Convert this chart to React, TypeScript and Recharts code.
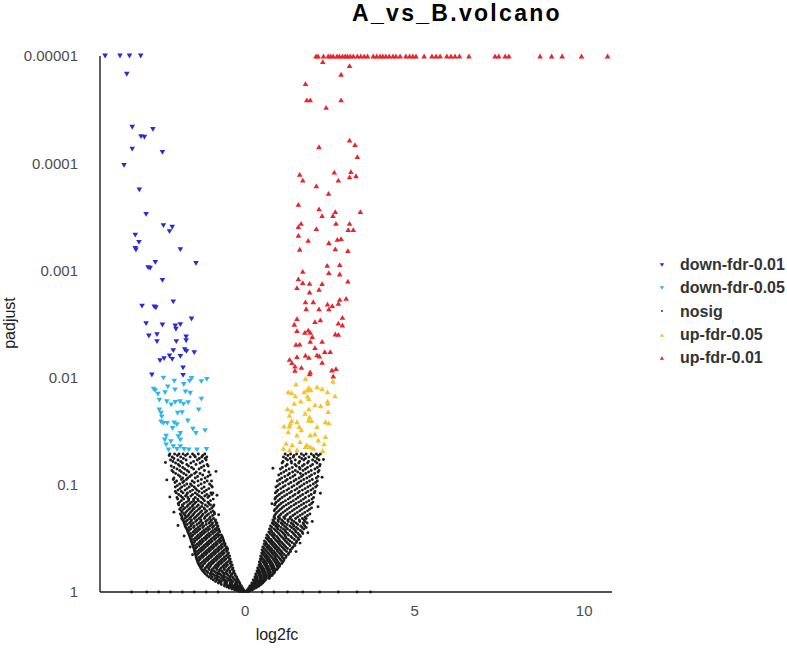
import React from 'react';
import { ScatterChart, Scatter, XAxis, YAxis, Legend } from 'recharts';

// ---------- axis ticks ----------
const xTicks = [0, 5, 10];
const yTicks = [0.00001, 0.0001, 0.001, 0.01, 0.1, 1];
const yTickLabels = ['0.00001', '0.0001', '0.001', '0.01', '0.1', '1'];

// ---------- series values: [log2fc, padjust] ----------
const downFdr001: [number, number][] = [
  [-4.13, 0.00001], [-3.69, 0.00001], [-3.41, 0.00001], [-3.08, 0.00001],
  [-3.49, 0.0000148], [-3.33, 0.0000462], [-2.72, 0.0000483], [-3.07, 0.0000566],
  [-2.97, 0.0000573], [-3.33, 0.0000738], [-2.44, 0.0000791], [-3.57, 0.000105],
  [-3.12, 0.000177], [-2.92, 0.0003], [-2.41, 0.000383], [-2.15, 0.000396],
  [-2.23, 0.000435], [-3.24, 0.000468], [-3.13, 0.000547], [-3.24, 0.000622],
  [-3.22, 0.000645], [-1.91, 0.000641], [-2.86, 0.000943], [-2.8, 0.000955],
  [-2.65, 0.00084], [-1.45, 0.000859], [-2.44, 0.00124], [-2.12, 0.00197],
  [-3.04, 0.00215], [-2.68, 0.00219], [-2.63, 0.00223], [-1.58, 0.00284],
  [-2.92, 0.00314], [-2.44, 0.00323], [-2.06, 0.0033], [-1.91, 0.00321],
  [-2.04, 0.00354], [-2.6, 0.00398], [-2.84, 0.00409], [-1.74, 0.00418],
  [-2.6, 0.00462], [-2.03, 0.00462], [-1.74, 0.00453], [-2.12, 0.00561],
  [-1.78, 0.0055], [-1.73, 0.0057], [-1.5, 0.00586], [-2.23, 0.00629],
  [-1.91, 0.00633], [-2.51, 0.00695], [-2.39, 0.00666], [-2.15, 0.00675],
  [-1.83, 0.00813], [-2.75, 0.00946], [-1.83, 0.00952],
];

const downFdr005: [number, number][] = [
  [-2.41, 0.0101], [-1.58, 0.0102], [-1.64, 0.0108], [-1.29, 0.0109], [-1.13, 0.0104],
  [-2.09, 0.0108], [-1.81, 0.0116], [-2.28, 0.0122], [-2.65, 0.0132], [-2.57, 0.0143],
  [-2.36, 0.0138], [-2.07, 0.013], [-1.76, 0.0136], [-1.62, 0.014], [-1.29, 0.0159],
  [-2.53, 0.0162], [-2.31, 0.0168], [-1.92, 0.0168], [-2.06, 0.017], [-2.18, 0.018],
  [-1.82, 0.0177], [-1.68, 0.0171], [-1.37, 0.02], [-2.53, 0.02], [-2.48, 0.0215],
  [-1.99, 0.0215], [-1.86, 0.0212], [-2.46, 0.0232], [-2.48, 0.0259], [-2.41, 0.0267],
  [-2.3, 0.0267], [-2.09, 0.0264], [-2.01, 0.0275], [-1.69, 0.0254], [-2.14, 0.0297],
  [-1.54, 0.0302], [-1.45, 0.0331], [-1.18, 0.0313], [-1.91, 0.0331], [-2.33, 0.0351],
  [-1.97, 0.0356], [-2.37, 0.0382], [-2.19, 0.0396], [-1.91, 0.0382], [-2.33, 0.0425],
  [-2.12, 0.0441], [-1.91, 0.0441], [-1.8, 0.0467], [-1.66, 0.0473], [-1.42, 0.0473],
  [-1.14, 0.0467], [-2.26, 0.0473], [-2.01, 0.0467], [-2.7, 0.0128],
];

const upFdr005: [number, number][] = [
  [2.59, 0.0108], [1.78, 0.0102], [1.5, 0.0115], [1.88, 0.0124], [2.12, 0.0122],
  [2.27, 0.0127], [1.74, 0.0136], [1.94, 0.013], [1.27, 0.0136], [1.37, 0.0138],
  [2.43, 0.0136], [1.84, 0.0149], [1.88, 0.0157], [2.65, 0.0148], [1.48, 0.0148],
  [1.45, 0.0174], [1.64, 0.0166], [2.43, 0.0166], [2.06, 0.018], [2.23, 0.0183],
  [2.44, 0.0174], [1.25, 0.0196], [1.37, 0.0204], [1.88, 0.0196], [2.45, 0.0208],
  [1.77, 0.0215], [1.31, 0.0225], [1.9, 0.0232], [1.37, 0.0252], [1.53, 0.0258],
  [1.96, 0.0252], [2.37, 0.0258], [2.47, 0.0264], [1.15, 0.0283], [1.31, 0.0283],
  [1.6, 0.0287], [2.12, 0.0287], [1.27, 0.032], [1.66, 0.0308], [1.92, 0.0343],
  [2.06, 0.0336], [2.37, 0.0356], [1.21, 0.041], [1.39, 0.0425], [1.62, 0.0396],
  [1.78, 0.0441], [2.16, 0.0382], [2.33, 0.0416], [1.13, 0.0457], [1.31, 0.0473],
  [1.53, 0.0473], [1.92, 0.0441], [2.01, 0.0457], [2.29, 0.0481], [1.83, 0.013],
  [1.87, 0.0249], [1.33, 0.0267], [1.53, 0.0343], [1.82, 0.0425],
];

const upFdr001: [number, number][] = [
  [2.09, 0.00001], [2.15, 0.00001], [2.31, 0.00001], [2.45, 0.00001], [2.52, 0.00001],
  [2.6, 0.00001], [2.71, 0.00001], [2.78, 0.00001], [2.87, 0.00001], [2.95, 0.00001],
  [3.02, 0.00001], [3.1, 0.00001], [3.19, 0.00001], [3.31, 0.00001], [3.41, 0.00001],
  [3.51, 0.00001], [3.61, 0.00001], [3.78, 0.00001], [3.88, 0.00001], [3.98, 0.00001],
  [4.06, 0.00001], [4.15, 0.00001], [4.25, 0.00001], [4.36, 0.00001], [4.45, 0.00001],
  [4.57, 0.00001], [4.74, 0.00001], [4.85, 0.00001], [4.95, 0.00001], [5.04, 0.00001],
  [5.28, 0.00001], [5.51, 0.00001], [5.63, 0.00001], [5.75, 0.00001], [5.95, 0.00001],
  [6.07, 0.00001], [6.19, 0.00001], [6.32, 0.00001], [6.6, 0.00001], [7.37, 0.00001],
  [7.48, 0.00001], [7.67, 0.00001], [7.78, 0.00001], [8.7, 0.00001], [9.04, 0.00001],
  [9.35, 0.00001], [9.92, 0.00001], [10.69, 0.00001],
  [2.29, 0.0000113], [3.08, 0.0000123], [2.83, 0.0000148], [1.78, 0.0000181],
  [1.82, 0.0000257], [1.92, 0.0000257], [2.83, 0.0000257], [2.39, 0.0000301],
  [3.08, 0.0000608], [3.24, 0.0000672], [2.18, 0.0000702], [3.31, 0.0000869],
  [1.61, 0.000127], [1.7, 0.000144], [2.63, 0.000121], [3.12, 0.00012],
  [3.08, 0.000134], [3.27, 0.000131], [2.75, 0.000144], [2.1, 0.000163],
  [2.46, 0.000191], [1.57, 0.000242], [2.18, 0.000267], [2.27, 0.000309],
  [2.66, 0.000283], [2.59, 0.000309], [3.4, 0.000283], [1.65, 0.000364],
  [1.57, 0.000391], [2.68, 0.000364], [3.08, 0.000364], [2.1, 0.000408],
  [3.04, 0.000417], [3.19, 0.000417], [1.57, 0.000471], [1.86, 0.000524],
  [2.47, 0.000552], [2.72, 0.000513], [2.83, 0.000506], [2.66, 0.000631],
  [1.61, 0.000635], [3.03, 0.000655], [2.42, 0.000896], [2.79, 0.000885],
  [1.7, 0.00102], [2.47, 0.00105], [2.79, 0.00108], [1.57, 0.0012],
  [1.7, 0.0013], [1.9, 0.00132], [2.27, 0.00133], [3.03, 0.00126],
  [1.53, 0.00145], [2.18, 0.0015], [1.9, 0.00159], [1.78, 0.00197],
  [2.01, 0.00196], [2.43, 0.00206], [2.57, 0.00213], [2.79, 0.00186],
  [2.98, 0.00182], [1.8, 0.00228], [2.18, 0.00229], [2.47, 0.00229],
  [2.75, 0.00203], [1.53, 0.00282], [1.45, 0.00318], [1.53, 0.00365],
  [2.06, 0.00301], [2.22, 0.0029], [2.87, 0.00274], [2.75, 0.00311],
  [2.87, 0.00323], [1.76, 0.00378], [1.86, 0.0036], [1.92, 0.00378],
  [1.98, 0.00415], [1.92, 0.00459], [2.27, 0.00459], [2.66, 0.00392],
  [2.75, 0.00395], [1.5, 0.00489], [1.61, 0.00487], [2.06, 0.00526],
  [2.35, 0.00573], [2.51, 0.00573], [1.53, 0.00638], [1.78, 0.00619],
  [1.88, 0.00647], [2.12, 0.00615], [2.19, 0.00629], [1.31, 0.00675],
  [1.38, 0.00726], [1.47, 0.0078], [1.66, 0.00802], [1.47, 0.00855],
  [2.27, 0.0072], [1.92, 0.00887], [1.9, 0.00925], [2.56, 0.00849],
  [2.68, 0.00826], [2.6, 0.00966],
];

// nosig: rows of equal padjust with the log2fc values seen on each side
const nosigRowPadj = [
  0.0516, 0.0551, 0.0587, 0.0626, 0.0668, 0.0712, 0.076, 0.081, 0.0864, 0.0922,
  0.0984, 0.105, 0.112, 0.119, 0.127, 0.136, 0.145, 0.154, 0.164, 0.175,
  0.187, 0.2, 0.213, 0.227, 0.242, 0.258, 0.275, 0.294, 0.313, 0.334,
  0.356, 0.38, 0.406, 0.433, 0.462, 0.492, 0.525, 0.56, 0.597, 0.637,
  0.679, 0.724, 0.773, 0.824, 0.879, 0.918, 0.957, 0.99,
];

const nosigLeftRows: number[][] = [
  [-2.22, -2.08, -1.95, -1.83, -1.7, -1.55, -1.38, -1.19],
  [-2.15, -1.9, -1.62, -1.47, -1.28, -1.13],
  [-2.2, -1.98, -1.74, -1.41, -1.15],
  [-2.05, -1.85, -1.6, -1.33],
  [-2.18, -1.93, -1.67, -1.22, -1.09],
  [-2.01, -1.78, -1.52, -1.36],
  [-2.12, -1.88, -1.66, -1.44, -1.07],
  [-1.97, -1.74, -1.58, -1.25, -1.03],
  [-2.1, -1.84, -1.69, -1.47, -1.18],
  [-2.02, -1.8, -1.56, -1.39, -1.12, -0.99],
  [-1.93, -1.72, -1.61, -1.3, -1.05],
  [-2.06, -1.87, -1.65, -1.5, -1.21, -0.97],
  [-1.98, -1.77, -1.55, -1.42, -1.14],
  [-2.03, -1.83, -1.7, -1.47, -1.27, -1.01, -0.95],
  [-1.9, -1.76, -1.6, -1.35, -1.19, -1.06],
  [-1.99, -1.81, -1.66, -1.52, -1.4, -1.24, -0.94],
  [-1.93, -1.73, -1.58, -1.45, -1.31, -1.1],
  [-1.96, -1.85, -1.68, -1.54, -1.38, -1.17, -1.02, -0.92],
  [-1.9, -1.77, -1.62, -1.49, -1.33, -1.21, -0.98],
  [-1.88, -1.71, -1.57, -1.43, -1.28, -1.13, -0.95],
  [-1.91, -1.8, -1.65, -1.52, -1.37, -1.24, -1.08, -0.9],
  [-1.86, -1.73, -1.6, -1.46, -1.31, -1.18, -1.03],
  [-1.84, -1.7, -1.58, -1.42, -1.3, -1.11, -0.99, -0.87],
  [-1.8, -1.64, -1.53, -1.36, -1.25, -1.07, -0.96, -0.83],
  [-1.77, -1.6, -1.5, -1.33, -1.22, -1.04, -0.93, -0.8],
  [-1.72, -1.6, -1.44, -1.33, -1.16, -1.05, -0.88, -0.78],
  [-1.69, -1.53, -1.43, -1.27, -1.17, -1.0, -0.9, -0.75],
  [-1.65, -1.54, -1.38, -1.28, -1.12, -1.02, -0.86, -0.77, -0.7],
  [-1.62, -1.47, -1.37, -1.21, -1.12, -0.96, -0.86, -0.72, -0.66],
  [-1.59, -1.48, -1.32, -1.23, -1.06, -0.97, -0.81, -0.71, -0.63],
  [-1.56, -1.41, -1.31, -1.16, -1.07, -0.91, -0.82, -0.67, -0.59],
  [-1.53, -1.42, -1.26, -1.17, -1.01, -0.92, -0.77, -0.67, -0.55],
  [-1.5, -1.36, -1.26, -1.11, -1.02, -0.87, -0.77, -0.62, -0.52],
  [-1.48, -1.37, -1.21, -1.12, -0.96, -0.87, -0.72, -0.62, -0.49],
  [-1.45, -1.31, -1.22, -1.06, -0.97, -0.82, -0.72, -0.57, -0.46],
  [-1.43, -1.32, -1.16, -1.07, -0.91, -0.82, -0.67, -0.57, -0.44],
  [-1.4, -1.26, -1.17, -1.01, -0.92, -0.77, -0.67, -0.52, -0.41],
  [-1.36, -1.25, -1.1, -1.01, -0.86, -0.77, -0.62, -0.52, -0.38],
  [-1.31, -1.17, -1.08, -0.93, -0.85, -0.71, -0.62, -0.47, -0.36],
  [-1.25, -1.14, -0.99, -0.91, -0.76, -0.68, -0.54, -0.45, -0.33],
  [-1.17, -1.03, -0.95, -0.81, -0.74, -0.61, -0.53, -0.39, -0.3],
  [-1.07, -0.97, -0.84, -0.77, -0.65, -0.58, -0.45, -0.37, -0.25],
  [-0.94, -0.82, -0.76, -0.64, -0.58, -0.47, -0.41, -0.29, -0.21],
  [-0.79, -0.72, -0.6, -0.55, -0.44, -0.39, -0.28, -0.23, -0.16],
  [-0.61, -0.51, -0.46, -0.36, -0.32, -0.22, -0.17, -0.11],
  [-0.47, -0.38, -0.33, -0.24, -0.2, -0.13, -0.08],
  [-0.31, -0.23, -0.19, -0.12, -0.08, -0.04],
  [-0.17, -0.1, -0.06, -0.02],
];

const nosigRightRows: number[][] = [
  [1.18, 1.34, 1.52, 1.66, 1.8, 1.95, 2.1, 2.22],
  [1.13, 1.42, 1.6, 1.88, 2.04],
  [1.25, 1.48, 1.73, 1.99, 2.18],
  [1.09, 1.37, 1.58, 1.84, 2.12],
  [1.2, 1.51, 1.69, 1.93, 2.2],
  [1.04, 1.3, 1.62, 1.78, 2.06],
  [1.14, 1.4, 1.55, 1.87, 2.15],
  [0.99, 1.26, 1.47, 1.71, 1.96],
  [1.08, 1.33, 1.59, 1.82, 2.1],
  [0.95, 1.19, 1.44, 1.65, 1.9, 2.13],
  [1.02, 1.28, 1.53, 1.74, 2.01],
  [0.91, 1.12, 1.38, 1.61, 1.85, 2.08],
  [0.97, 1.23, 1.47, 1.69, 1.94],
  [0.89, 1.07, 1.31, 1.56, 1.79, 2.04],
  [0.95, 1.16, 1.41, 1.63, 1.88],
  [0.88, 1.03, 1.27, 1.5, 1.72, 1.97],
  [0.92, 1.12, 1.35, 1.58, 1.81, 2.0],
  [0.87, 1.01, 1.21, 1.44, 1.66, 1.9],
  [0.93, 1.09, 1.3, 1.52, 1.74, 1.96],
  [0.86, 0.99, 1.18, 1.39, 1.61, 1.84],
  [0.9, 1.06, 1.25, 1.47, 1.69, 1.91],
  [0.85, 0.98, 1.14, 1.34, 1.55, 1.77],
  [0.82, 0.97, 1.08, 1.26, 1.38, 1.6, 1.74],
  [0.8, 0.9, 1.06, 1.17, 1.36, 1.5, 1.71, 1.83],
  [0.75, 0.9, 0.99, 1.16, 1.32, 1.44, 1.64, 1.76],
  [0.72, 0.86, 0.97, 1.13, 1.25, 1.43, 1.56, 1.73],
  [0.7, 0.79, 0.95, 1.09, 1.2, 1.38, 1.5, 1.68],
  [0.64, 0.78, 0.87, 1.03, 1.17, 1.28, 1.46, 1.6],
  [0.62, 0.7, 0.85, 0.97, 1.11, 1.21, 1.39, 1.56],
  [0.57, 0.7, 0.79, 0.93, 1.03, 1.19, 1.32, 1.52],
  [0.56, 0.64, 0.78, 0.87, 1.01, 1.12, 1.28, 1.45],
  [0.52, 0.64, 0.72, 0.86, 0.95, 1.09, 1.2, 1.41],
  [0.5, 0.6, 0.72, 0.8, 0.94, 1.03, 1.17, 1.33],
  [0.49, 0.57, 0.68, 0.8, 0.88, 1.01, 1.1, 1.29],
  [0.46, 0.57, 0.65, 0.75, 0.87, 0.95, 1.08, 1.21],
  [0.45, 0.53, 0.64, 0.71, 0.83, 0.91, 1.03, 1.15],
  [0.42, 0.53, 0.6, 0.7, 0.77, 0.89, 0.97, 1.11],
  [0.41, 0.47, 0.58, 0.64, 0.75, 0.82, 0.93, 1.02],
  [0.37, 0.47, 0.53, 0.63, 0.69, 0.79, 0.86, 0.97],
  [0.35, 0.42, 0.51, 0.57, 0.67, 0.72, 0.82, 0.88],
  [0.31, 0.4, 0.45, 0.54, 0.6, 0.69, 0.74, 0.83],
  [0.29, 0.34, 0.43, 0.48, 0.56, 0.61, 0.69, 0.73],
  [0.24, 0.32, 0.36, 0.44, 0.48, 0.56, 0.6],
  [0.2, 0.27, 0.3, 0.38, 0.41, 0.49, 0.52],
  [0.14, 0.21, 0.24, 0.31, 0.34, 0.41],
  [0.11, 0.15, 0.21, 0.24, 0.31],
  [0.06, 0.12, 0.14, 0.21],
  [0.03, 0.07, 0.1],
];

// second set of rows, lying between the rows above
const nosigMidPadj = [
  0.0533, 0.0569, 0.0606, 0.0647, 0.069, 0.0736, 0.0785, 0.0837, 0.0893, 0.0953,
  0.1017, 0.1085, 0.1155, 0.123, 0.1315, 0.1405, 0.1495, 0.159, 0.1695, 0.181,
  0.1935, 0.2065, 0.22, 0.2345, 0.25, 0.2665, 0.2845, 0.3035, 0.3235, 0.345,
  0.368, 0.393, 0.4195, 0.447, 0.477, 0.508, 0.542, 0.578, 0.617, 0.658,
  0.701, 0.748, 0.798, 0.851, 0.898, 0.937, 0.973,
];

const nosigMidLeftRows: number[][] = [
  [-2.24, -2.0, -1.76, -1.5, -1.25],
  [-2.1, -1.82, -1.35, -1.18],
  [-2.13, -1.9, -1.52, -1.26],
  [-1.97, -1.72, -1.45, -1.12],
  [-2.1, -1.84, -1.58, -1.29],
  [-2.16, -1.93, -1.71, -1.2],
  [-2.05, -1.81, -1.49, -1.33],
  [-1.92, -1.63, -1.4, -1.1],
  [-2.12, -1.88, -1.73, -1.29],
  [-2.07, -1.84, -1.5, -1.2],
  [-2.0, -1.79, -1.57, -1.38, -1.0],
  [-1.92, -1.71, -1.46, -1.28, -1.07],
  [-2.06, -1.88, -1.62, -1.36, -1.2],
  [-1.96, -1.72, -1.55, -1.41, -1.13, -0.98],
  [-2.01, -1.85, -1.69, -1.47, -1.29, -1.1],
  [-1.88, -1.67, -1.52, -1.38, -1.2, -1.02],
  [-1.97, -1.8, -1.63, -1.49, -1.26, -1.07],
  [-1.84, -1.71, -1.56, -1.42, -1.28, -1.11, -0.94],
  [-1.93, -1.82, -1.66, -1.53, -1.37, -1.19, -1.04],
  [-1.85, -1.75, -1.61, -1.48, -1.32, -1.17, -1.01, -0.91],
  [-1.88, -1.77, -1.68, -1.55, -1.41, -1.27, -1.13, -0.96],
  [-1.87, -1.78, -1.64, -1.5, -1.36, -1.2, -1.05, -0.93],
  [-1.81, -1.74, -1.6, -1.46, -1.31, -1.16, -1.02, -0.88],
  [-1.78, -1.71, -1.58, -1.42, -1.28, -1.15, -0.99, -0.86],
  [-1.75, -1.66, -1.52, -1.39, -1.25, -1.1, -0.96, -0.83],
  [-1.7, -1.65, -1.49, -1.38, -1.22, -1.1, -0.95, -0.84, -0.77],
  [-1.67, -1.6, -1.48, -1.32, -1.22, -1.07, -0.95, -0.81],
  [-1.63, -1.57, -1.42, -1.32, -1.16, -1.06, -0.91, -0.8, -0.68],
  [-1.6, -1.53, -1.42, -1.27, -1.16, -1.01, -0.9, -0.76, -0.65],
  [-1.57, -1.5, -1.36, -1.27, -1.11, -1.01, -0.86, -0.75, -0.62],
  [-1.54, -1.47, -1.36, -1.21, -1.11, -0.96, -0.86, -0.71, -0.6],
  [-1.51, -1.46, -1.31, -1.21, -1.06, -0.96, -0.81, -0.71, -0.57, -0.52],
  [-1.49, -1.42, -1.31, -1.16, -1.06, -0.91, -0.81, -0.67, -0.55],
  [-1.46, -1.41, -1.26, -1.16, -1.01, -0.91, -0.77, -0.66, -0.52],
  [-1.44, -1.36, -1.26, -1.11, -1.01, -0.86, -0.76, -0.62, -0.5],
  [-1.41, -1.36, -1.21, -1.11, -0.96, -0.86, -0.72, -0.61, -0.47],
  [-1.38, -1.31, -1.2, -1.06, -0.96, -0.81, -0.71, -0.57, -0.44],
  [-1.33, -1.26, -1.13, -1.03, -0.89, -0.8, -0.66, -0.56, -0.42],
  [-1.28, -1.2, -1.06, -0.97, -0.83, -0.74, -0.61, -0.51, -0.38],
  [-1.21, -1.1, -1.0, -0.87, -0.79, -0.66, -0.57, -0.45, -0.34],
  [-1.12, -1.01, -0.9, -0.83, -0.7, -0.63, -0.5, -0.42, -0.29],
  [-1.0, -0.89, -0.83, -0.7, -0.64, -0.52, -0.45, -0.34, -0.24],
  [-0.87, -0.76, -0.7, -0.59, -0.53, -0.42, -0.36, -0.26, -0.19],
  [-0.7, -0.6, -0.55, -0.45, -0.4, -0.3, -0.25, -0.15],
  [-0.54, -0.44, -0.4, -0.3, -0.27, -0.18, -0.12],
  [-0.39, -0.3, -0.27, -0.18, -0.14, -0.07],
  [-0.24, -0.16, -0.13, -0.06],
];

const nosigMidRightRows: number[][] = [
  [1.26, 1.44, 1.73, 2.02, 2.16],
  [1.2, 1.33, 1.67, 1.78, 2.12],
  [1.12, 1.36, 1.61, 1.87, 2.07],
  [1.24, 1.47, 1.74, 1.99, 2.21],
  [1.1, 1.39, 1.6, 1.84, 2.13],
  [1.21, 1.48, 1.71, 1.95, 2.18],
  [1.06, 1.31, 1.63, 1.79, 2.05],
  [1.17, 1.41, 1.66, 1.9, 2.15],
  [1.02, 1.24, 1.5, 1.73, 1.98],
  [1.11, 1.35, 1.58, 1.82, 2.08],
  [0.96, 1.18, 1.44, 1.67, 1.92, 2.12],
  [1.05, 1.29, 1.53, 1.77, 2.0],
  [0.93, 1.14, 1.37, 1.6, 1.85, 2.06],
  [1.01, 1.23, 1.47, 1.7, 1.95],
  [0.9, 1.09, 1.33, 1.56, 1.78, 2.02],
  [0.98, 1.19, 1.42, 1.65, 1.88],
  [0.89, 1.06, 1.28, 1.5, 1.73, 1.96],
  [0.96, 1.14, 1.36, 1.59, 1.8],
  [0.88, 1.04, 1.24, 1.45, 1.67, 1.9],
  [0.94, 1.12, 1.32, 1.54, 1.76],
  [0.87, 1.02, 1.2, 1.41, 1.62, 1.84],
  [0.88, 1.02, 1.17, 1.32, 1.49, 1.69, 1.8],
  [0.85, 0.98, 1.12, 1.27, 1.44, 1.61, 1.77],
  [0.84, 0.95, 1.1, 1.24, 1.41, 1.55, 1.73],
  [0.79, 0.94, 1.06, 1.21, 1.37, 1.51, 1.68, 1.8],
  [0.77, 0.9, 1.04, 1.18, 1.32, 1.48, 1.63],
  [0.73, 0.84, 0.99, 1.13, 1.25, 1.42, 1.56, 1.7],
  [0.68, 0.82, 0.93, 1.07, 1.19, 1.35, 1.5, 1.63],
  [0.66, 0.76, 0.89, 1.0, 1.15, 1.27, 1.45, 1.58],
  [0.61, 0.74, 0.83, 0.97, 1.08, 1.23, 1.38, 1.51],
  [0.59, 0.69, 0.81, 0.91, 1.04, 1.16, 1.32, 1.47],
  [0.56, 0.67, 0.77, 0.89, 0.99, 1.13, 1.25, 1.38],
  [0.54, 0.64, 0.75, 0.85, 0.96, 1.07, 1.22, 1.34],
  [0.52, 0.61, 0.72, 0.82, 0.92, 1.04, 1.15, 1.27],
  [0.49, 0.6, 0.68, 0.79, 0.88, 0.99, 1.1, 1.2],
  [0.47, 0.57, 0.66, 0.74, 0.85, 0.94, 1.06, 1.14],
  [0.45, 0.56, 0.63, 0.73, 0.8, 0.91, 1.0, 1.08],
  [0.43, 0.5, 0.61, 0.68, 0.77, 0.84, 0.95, 1.01],
  [0.4, 0.49, 0.56, 0.65, 0.72, 0.81, 0.9, 0.94],
  [0.37, 0.45, 0.53, 0.6, 0.69, 0.75, 0.84, 0.87],
  [0.33, 0.42, 0.48, 0.57, 0.63, 0.71, 0.77, 0.79],
  [0.3, 0.36, 0.46, 0.5, 0.59, 0.63, 0.71],
  [0.27, 0.33, 0.4, 0.45, 0.52, 0.56],
  [0.2, 0.28, 0.32, 0.38, 0.43, 0.47],
  [0.16, 0.21, 0.26, 0.31, 0.36],
  [0.1, 0.16, 0.19, 0.25],
  [0.06, 0.1, 0.14],
];

// scattered nosig genes lying just outside the two arms
const nosigStray: [number, number][] = [
  [-2.35, 0.062], [-2.31, 0.09], [-2.22, 0.13], [-2.1, 0.18], [-1.98, 0.24], [-1.8, 0.3],
  [-0.86, 0.075], [-0.83, 0.125], [-0.78, 0.19], [-1.62, 0.38], [-1.55, 0.45],
  [2.31, 0.058], [2.27, 0.085], [2.22, 0.12], [2.15, 0.16], [1.98, 0.22], [1.85, 0.28],
  [0.82, 0.07], [0.79, 0.15], [1.62, 0.35], [1.5, 0.42],
];

// genes sitting on padjust = 1
const nosigOnAxisX = [-3.35, -2.9, -2.55, -2.2, -1.85, -1.5, -1.15, -0.8, 0.5, 0.85, 1.25, 1.7, 2.2, 2.75, 3.3, 3.7];

// ---------- build tables ----------
type Pt = { x: number; p: number };
const toPts = (arr: [number, number][]): Pt[] => arr.map(([x, p]) => ({ x, p }));
const rowsToPts = (rows: number[][], levels: number[]): Pt[] =>
  rows.flatMap((xs, i) => xs.map((x) => ({ x, p: levels[i] })));
const nosigPts: Pt[] = [
  ...rowsToPts(nosigLeftRows, nosigRowPadj),
  ...rowsToPts(nosigRightRows, nosigRowPadj),
  ...rowsToPts(nosigMidLeftRows, nosigMidPadj),
  ...rowsToPts(nosigMidRightRows, nosigMidPadj),
  ...toPts(nosigStray),
  ...nosigOnAxisX.map((x) => ({ x, p: 1 })),
];

const COLORS = {
  down01: '#2b2bd6',
  down05: '#2cb6ef',
  nosig: '#1c1c1c',
  up05: '#f6c22a',
  up01: '#e8252b',
};

const FONT = '"Liberation Sans", Arial, Helvetica, sans-serif';

// ---------- shapes ----------
const triDown = (color: string, w = 2.8, h = 2.4) => (props: any) => {
  const { cx, cy } = props;
  if (cx == null || cy == null) return <g />;
  return <path d={`M${cx - w},${cy - h}L${cx + w},${cy - h}L${cx},${cy + h}Z`} fill={color} />;
};
const triUp = (color: string, w = 2.8, h = 2.4) => (props: any) => {
  const { cx, cy } = props;
  if (cx == null || cy == null) return <g />;
  return <path d={`M${cx - w},${cy + h}L${cx + w},${cy + h}L${cx},${cy - h}Z`} fill={color} />;
};
const dot = (color: string, r = 1.45) => (props: any) => {
  const { cx, cy } = props;
  if (cx == null || cy == null) return <g />;
  return <circle cx={cx} cy={cy} r={r} fill={color} />;
};

const legendItems = [
  { name: 'down-fdr-0.01', kind: 'down', color: COLORS.down01 },
  { name: 'down-fdr-0.05', kind: 'down', color: COLORS.down05 },
  { name: 'nosig', kind: 'dot', color: COLORS.nosig },
  { name: 'up-fdr-0.05', kind: 'up', color: COLORS.up05 },
  { name: 'up-fdr-0.01', kind: 'up', color: COLORS.up01 },
];

const LegendContent = () => (
  <div style={{ fontFamily: FONT }}>
    {legendItems.map((it) => (
      <div
        key={it.name}
        style={{ display: 'flex', alignItems: 'center', height: 23.3, lineHeight: '23.3px' }}
      >
        <svg width={12} height={12} style={{ marginRight: 12, flex: 'none' }}>
          {it.kind === 'down' && <path d="M3.8,4.2L8.2,4.2L6,7.8Z" fill={it.color} />}
          {it.kind === 'up' && <path d="M3.8,7.8L8.2,7.8L6,4.2Z" fill={it.color} />}
          {it.kind === 'dot' && <circle cx={6} cy={6} r={0.9} fill={it.color} />}
        </svg>
        <span style={{ fontSize: 16, fontWeight: 700, color: '#333' }}>{it.name}</span>
      </div>
    ))}
  </div>
);

const yTickFmt = (v: number) => {
  const i = yTicks.findIndex((t) => Math.abs(Math.log10(t) - Math.log10(v)) < 1e-6);
  return i >= 0 ? yTickLabels[i] : String(v);
};

export default function App() {
  return (
    <div style={{ position: 'absolute', left: 0, top: 0, width: 787, height: 650, background: '#fff' }}>
      <div
        style={{
          position: 'absolute',
          left: 307,
          top: 0,
          width: 300,
          textAlign: 'center',
          fontFamily: FONT,
          fontWeight: 700,
          fontSize: 23,
          letterSpacing: 2.3,
          lineHeight: '27px',
          color: '#000',
        }}
      >
        A_vs_B.volcano
      </div>
      <ScatterChart width={787} height={650} margin={{ top: 56, right: 175, bottom: 28, left: 0 }}>
        <XAxis
          type="number"
          dataKey="x"
          domain={[-4.28, 10.82]}
          ticks={xTicks}
          tickLine={false}
          tickSize={0}
          tickMargin={13}
          height={30}
          axisLine={{ stroke: '#1a1a1a', strokeWidth: 1.4 }}
          tick={{ fill: '#4d4d4d', fontSize: 15, fontFamily: FONT }}
          label={{
            content: () => (
              <text x={277} y={640} textAnchor="middle" fontSize={16} fontFamily={FONT} fill="#222">
                log2fc
              </text>
            ),
          }}
        />
        <YAxis
          type="number"
          dataKey="p"
          scale="log"
          domain={[0.00001, 1]}
          reversed
          ticks={yTicks}
          tickFormatter={yTickFmt}
          tickLine={false}
          tickSize={0}
          tickMargin={22}
          width={100}
          axisLine={{ stroke: '#1a1a1a', strokeWidth: 1.4 }}
          tick={{ fill: '#4d4d4d', fontSize: 15, fontFamily: FONT }}
          label={{
            content: () => (
              <text
                x={15}
                y={323}
                textAnchor="middle"
                fontSize={16}
                fontFamily={FONT}
                fill="#222"
                transform="rotate(-90 15 323)"
              >
                padjust
              </text>
            ),
          }}
        />
        <Scatter name="nosig" data={nosigPts} shape={dot(COLORS.nosig)} isAnimationActive={false} />
        <Scatter name="down-fdr-0.05" data={toPts(downFdr005)} shape={triDown(COLORS.down05)} isAnimationActive={false} />
        <Scatter name="up-fdr-0.05" data={toPts(upFdr005)} shape={triUp(COLORS.up05)} isAnimationActive={false} />
        <Scatter name="down-fdr-0.01" data={toPts(downFdr001)} shape={triDown(COLORS.down01)} isAnimationActive={false} />
        <Scatter name="up-fdr-0.01" data={toPts(upFdr001)} shape={triUp(COLORS.up01)} isAnimationActive={false} />
        <Legend
          layout="vertical"
          align="center"
          verticalAlign="middle"
          wrapperStyle={{ left: 656, top: 253, width: 135 }}
          content={() => <LegendContent />}
        />
      </ScatterChart>
    </div>
  );
}
